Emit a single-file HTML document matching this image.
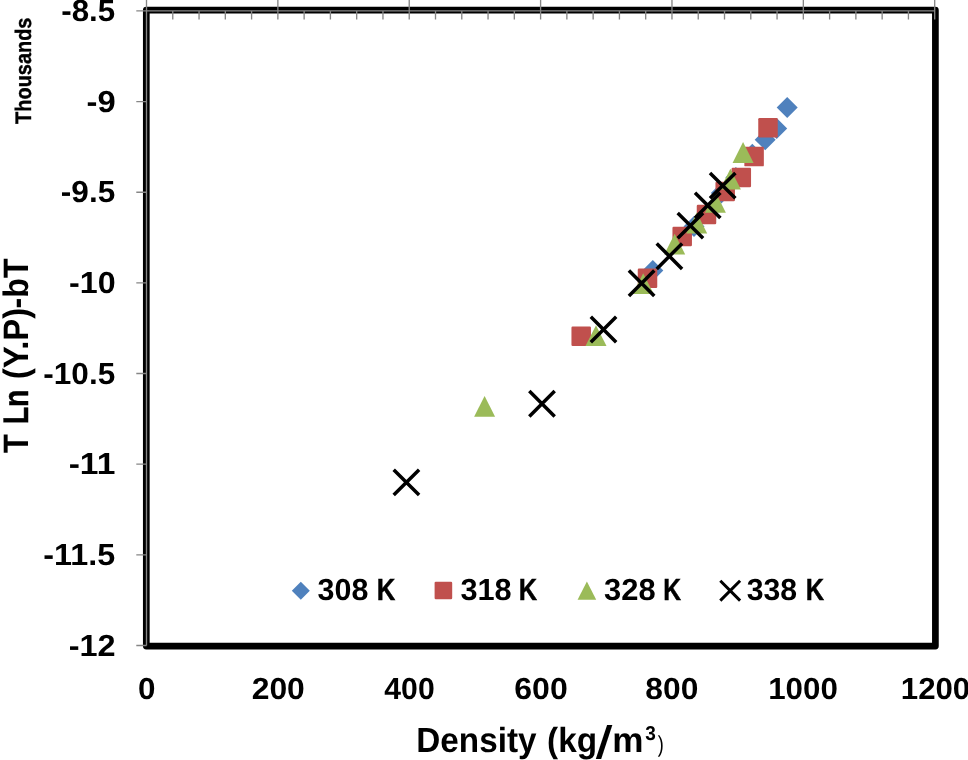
<!DOCTYPE html>
<html lang="en"><head><meta charset="utf-8"><title>T Ln (Y.P)-bT vs Density</title>
<style>
html,body{margin:0;padding:0;background:#fff;}
body{width:968px;height:760px;overflow:hidden;}
svg{display:block;}
text{font-family:"Liberation Sans",sans-serif;fill:#000;text-rendering:geometricPrecision;}
</style></head><body>
<svg width="968" height="760" viewBox="0 0 968 760">
<rect width="968" height="760" fill="#fff"/>
<rect x="146.3" y="10.2" width="789.10" height="635.90" fill="none" stroke="#000" stroke-width="6.7" stroke-linejoin="round"/>
<path d="M146.5 10.9L934.7 10.9M146.5 10.9L146.5 645.5M146.50 -1L146.50 19.4M277.87 -1L277.87 19.4M409.23 -1L409.23 19.4M540.60 -1L540.60 19.4M671.97 -1L671.97 19.4M803.33 -1L803.33 19.4M934.70 -1L934.70 19.4M172.77 10.9L172.77 19.4M199.05 10.9L199.05 19.4M225.32 10.9L225.32 19.4M251.59 10.9L251.59 19.4M304.14 10.9L304.14 19.4M330.41 10.9L330.41 19.4M356.69 10.9L356.69 19.4M382.96 10.9L382.96 19.4M435.51 10.9L435.51 19.4M461.78 10.9L461.78 19.4M488.05 10.9L488.05 19.4M514.33 10.9L514.33 19.4M566.87 10.9L566.87 19.4M593.15 10.9L593.15 19.4M619.42 10.9L619.42 19.4M645.69 10.9L645.69 19.4M698.24 10.9L698.24 19.4M724.51 10.9L724.51 19.4M750.79 10.9L750.79 19.4M777.06 10.9L777.06 19.4M829.61 10.9L829.61 19.4M855.88 10.9L855.88 19.4M882.15 10.9L882.15 19.4M908.43 10.9L908.43 19.4M136.3 10.90L146.5 10.90M136.3 101.56L146.5 101.56M136.3 192.21L146.5 192.21M136.3 282.87L146.5 282.87M136.3 373.53L146.5 373.53M136.3 464.19L146.5 464.19M136.3 554.84L146.5 554.84M136.3 645.50L146.5 645.50" stroke="#868686" stroke-width="1.33" fill="none"/>
<g><path d="M787.20 97.00L797.70 107.50L787.20 118.00L776.70 107.50Z" fill="#4F81BD"/><path d="M776.70 117.90L787.20 128.40L776.70 138.90L766.20 128.40Z" fill="#4F81BD"/><path d="M765.20 129.30L775.70 139.80L765.20 150.30L754.70 139.80Z" fill="#4F81BD"/><path d="M752.30 143.80L762.80 154.30L752.30 164.80L741.80 154.30Z" fill="#4F81BD"/><path d="M735.90 167.00L746.40 177.50L735.90 188.00L725.40 177.50Z" fill="#4F81BD"/><path d="M721.40 182.50L731.90 193.00L721.40 203.50L710.90 193.00Z" fill="#4F81BD"/><path d="M694.00 216.00L704.50 226.50L694.00 237.00L683.50 226.50Z" fill="#4F81BD"/><path d="M652.80 260.10L663.30 270.60L652.80 281.10L642.30 270.60Z" fill="#4F81BD"/></g>
<g><rect x="571.45" y="326.55" width="19.5" height="19.5" rx="1.2" fill="#C0504D"/><rect x="637.75" y="268.55" width="19.5" height="19.5" rx="1.2" fill="#C0504D"/><rect x="672.45" y="226.75" width="19.5" height="19.5" rx="1.2" fill="#C0504D"/><rect x="696.75" y="204.75" width="19.5" height="19.5" rx="1.2" fill="#C0504D"/><rect x="715.45" y="181.75" width="19.5" height="19.5" rx="1.2" fill="#C0504D"/><rect x="731.55" y="167.75" width="19.5" height="19.5" rx="1.2" fill="#C0504D"/><rect x="744.35" y="146.85" width="19.5" height="19.5" rx="1.2" fill="#C0504D"/><rect x="758.25" y="117.95" width="19.5" height="19.5" rx="1.2" fill="#C0504D"/></g>
<g><path d="M484.60 396.00L495.10 416.80L474.10 416.80Z" fill="#9BBB59"/><path d="M596.00 325.30L606.50 346.10L585.50 346.10Z" fill="#9BBB59"/><path d="M643.20 273.20L653.70 294.00L632.70 294.00Z" fill="#9BBB59"/><path d="M674.70 233.80L685.20 254.60L664.20 254.60Z" fill="#9BBB59"/><path d="M696.70 212.60L707.20 233.40L686.20 233.40Z" fill="#9BBB59"/><path d="M715.40 191.90L725.90 212.70L704.90 212.70Z" fill="#9BBB59"/><path d="M730.40 168.80L740.90 189.60L719.90 189.60Z" fill="#9BBB59"/><path d="M743.05 142.10L753.55 162.90L732.55 162.90Z" fill="#9BBB59"/></g>
<g><path d="M393.70 469.70L419.10 495.10M393.70 495.10L419.10 469.70" stroke="#000" stroke-width="3.5" fill="none"/><path d="M529.30 391.00L554.70 416.40M529.30 416.40L554.70 391.00" stroke="#000" stroke-width="3.5" fill="none"/><path d="M590.80 316.80L616.20 342.20M590.80 342.20L616.20 316.80" stroke="#000" stroke-width="3.5" fill="none"/><path d="M628.90 270.50L654.30 295.90M628.90 295.90L654.30 270.50" stroke="#000" stroke-width="3.5" fill="none"/><path d="M656.70 243.50L682.10 268.90M656.70 268.90L682.10 243.50" stroke="#000" stroke-width="3.5" fill="none"/><path d="M677.70 212.90L703.10 238.30M677.70 238.30L703.10 212.90" stroke="#000" stroke-width="3.5" fill="none"/><path d="M695.00 192.70L720.40 218.10M695.00 218.10L720.40 192.70" stroke="#000" stroke-width="3.5" fill="none"/><path d="M710.00 172.90L735.40 198.30M710.00 198.30L735.40 172.90" stroke="#000" stroke-width="3.5" fill="none"/></g>
<path d="M300.80 581.70L309.80 590.70L300.80 599.70L291.80 590.70Z" fill="#4F81BD"/>
<rect x="434.60" y="581.70" width="17.6" height="17.6" rx="1.2" fill="#C0504D"/>
<path d="M586.90 581.60L596.20 599.70L577.60 599.70Z" fill="#9BBB59"/>
<path d="M720.30 580.80L740.10 600.60M720.30 600.60L740.10 580.80" stroke="#000" stroke-width="3.0" fill="none"/>
<g font-weight="bold">
<text transform="translate(61.25 20.55) scale(1.0296 1)" font-size="30.4">-8.5</text>
<text transform="translate(86.49 111.71) scale(1.0762 1)" font-size="30.4">-9</text>
<text transform="translate(60.84 202.36) scale(1.0375 1)" font-size="30.4">-9.5</text>
<text transform="translate(69.01 293.02) scale(1.0603 1)" font-size="30.4">-10</text>
<text transform="translate(43.34 383.68) scale(1.0374 1)" font-size="30.4">-10.5</text>
<text transform="translate(68.66 474.34) scale(1.1040 1)" font-size="30.4">-11</text>
<text transform="translate(43.31 564.99) scale(1.0639 1)" font-size="30.4">-11.5</text>
<text transform="translate(68.70 655.65) scale(1.0676 1)" font-size="30.4">-12</text>
<text transform="translate(138.05 699.20) scale(1.0319 1)" font-size="30.4">0</text>
<text transform="translate(251.69 699.20) scale(1.0477 1)" font-size="30.4">200</text>
<text transform="translate(384.35 699.20) scale(0.9919 1)" font-size="30.4">400</text>
<text transform="translate(514.28 699.20) scale(1.0539 1)" font-size="30.4">600</text>
<text transform="translate(645.35 699.20) scale(1.0444 1)" font-size="30.4">800</text>
<text transform="translate(768.16 699.20) scale(1.0303 1)" font-size="30.4">1000</text>
<text transform="translate(900.77 699.20) scale(1.0272 1)" font-size="30.4">1200</text>
<text transform="translate(317.54 599.60) scale(1.0021 1)" font-size="30.4">308</text>
<text transform="translate(376.73 599.60) scale(0.8466 1)" font-size="30.4" stroke="#000" stroke-width="0.45">K</text>
<text transform="translate(460.43 599.60) scale(1.0103 1)" font-size="30.4">318</text>
<text transform="translate(518.85 599.60) scale(0.8364 1)" font-size="30.4" stroke="#000" stroke-width="0.45">K</text>
<text transform="translate(604.03 599.60) scale(1.0164 1)" font-size="30.4">328</text>
<text transform="translate(663.30 599.60) scale(0.8109 1)" font-size="30.4" stroke="#000" stroke-width="0.45">K</text>
<text transform="translate(746.64 599.60) scale(0.9940 1)" font-size="30.4">338</text>
<text transform="translate(805.65 599.60) scale(0.8364 1)" font-size="30.4" stroke="#000" stroke-width="0.45">K</text>
<text transform="translate(416.34 752.20) scale(0.9500 1)" font-size="35.03">Density</text>
<text transform="translate(547.03 752.20) scale(0.9516 1)" font-size="35.03">(kg</text>
<text transform="translate(612.22 752.20) scale(1.0029 1)" font-size="35.03">m</text>
<text transform="translate(595.40 758.40) skewX(-8.1)" font-size="45.4">/</text>
<text transform="translate(30.50 123.90) rotate(-90) scale(0.8910 1)" font-size="22.38" stroke="#000" stroke-width="0.4">Thousands</text>
<text transform="translate(27.50 453.11) rotate(-90) scale(0.8782 1)" font-size="35.32">T</text>
<text transform="translate(27.50 424.35) rotate(-90) scale(0.8067 1)" font-size="35.32" stroke="#000" stroke-width="0.5">Ln</text>
<text transform="translate(27.50 379.15) rotate(-90) scale(0.9337 1)" font-size="35.32">(Y.P)</text>
<text transform="translate(27.50 308.49) rotate(-90) scale(0.9124 1)" font-size="35.32">-bT</text>
<text transform="translate(645.13 740.00) scale(0.9495 1)" font-size="20.0">3</text>
<text transform="translate(657.72 752.24) scale(0.7783 1)" font-size="23.23" font-weight="normal">)</text>
</g>
</svg></body></html>
